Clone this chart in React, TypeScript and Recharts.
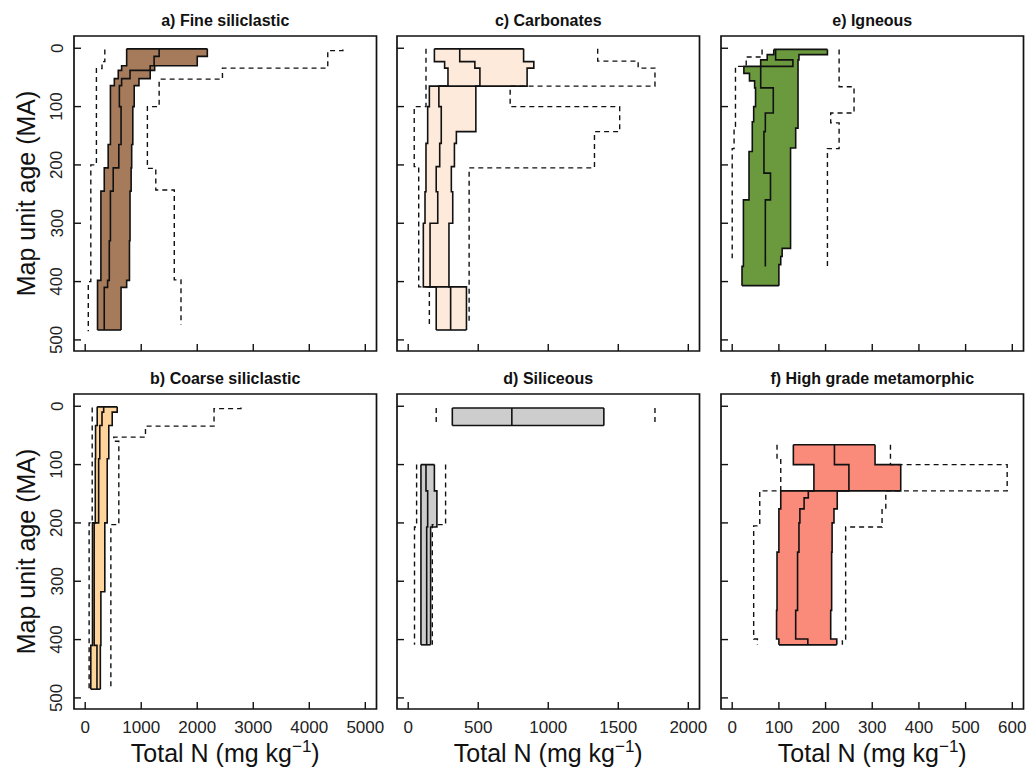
import React from "react";
import { Area, ComposedChart, Line, ReferenceArea, XAxis, YAxis } from "recharts";

// age breaks (MA) and per-bin values (mg/kg)
const aAges = [1, 14, 30, 38, 52, 64, 100, 165, 205, 245, 330, 398, 410, 483];
const aQ1 = [740, 740, 650, 590, 520, 450, 450, 410, 340, 280, 280, 220, 220];
const aMed = [1320, 1230, 1160, 800, 650, 610, 640, 600, 500, 450, 430, 400, 340];
const aQ3 = [2180, 2000, 1240, 1160, 960, 875, 850, 830, 820, 800, 790, 740, 640];
const aMinAges = [2, 23, 35, 200, 400, 485];
const aMin = [350, 300, 200, 100, 55];
const aMaxAges = [2, 4, 34, 53, 100, 206, 243, 397, 474];
const aMax = [4600, 4330, 2450, 1320, 1110, 1260, 1590, 1710];

const bAges = [1, 10, 33, 90, 200, 318, 410, 485];
const bQ1 = [214, 214, 185, 180, 130, 130, 100];
const bMed = [330, 300, 260, 240, 160, 160, 210];
const bQ3 = [571, 482, 421, 393, 350, 280, 270];
const bMinAges = [2, 200, 485];
const bMin = [125, 70];
const bMaxAges = [2, 4, 34, 53, 60, 203, 480];
const bMax = [2780, 2300, 1076, 510, 600, 458];

const cAges = [1, 23, 34, 65, 100, 143, 163, 203, 246, 300, 409, 483];
const cQ1 = [187, 260, 284, 151, 139, 139, 127, 127, 120, 108, 200];
const cMed = [368, 476, 512, 219, 236, 236, 225, 200, 211, 156, 303];
const cQ3 = [824, 897, 849, 483, 483, 344, 330, 308, 318, 291, 416];
const cMinAges = [1, 100, 203, 409, 474];
const cMin = [127, 43, 75, 151];
const cMaxAges = [1, 22, 34, 65, 100, 143, 205, 474];
const cMax = [1353, 1642, 1762, 728, 1510, 1330, 435];

const dAges = [3, 33, 100, 145, 207, 409];
const dQ1 = [315, null, 91, 91, 91];
const dMed = [740, null, 127, 139, 132];
const dQ3 = [1397, null, 187, 205, 160];
const dMinAges = [3, 33, 100, 207, 409];
const dMin = [200, null, 60, 45];
const dMaxAges = [3, 33, 100, 203, 409];
const dMax = [1762, null, 267, 172];

const eAges = [2, 11, 20, 31, 43, 56, 68, 100, 111, 126, 137, 143, 171, 177, 214, 260, 343, 357, 371, 374, 407];
const eQ1 = [89, 75, 61, 25, 37, 48, 50, 46, 46, 43, 43, 43, 43, 36, 36, 24, 24, 24, 24, 21];
const eMed = [93, 93, 130, 61, 61, 61, 88, 88, 71, 71, 71, 68, 68, 68, 82, 71, 71, 71, 71, null];
const eQ3 = [204, 143, 141, 141, 141, 141, 141, 141, 141, 141, 136, 136, 125, 125, 125, 125, 107, 104, 100, 100];
const eMinAges = [2, 15, 31, 134, 172, 360];
const eMin = [64, 30, 7, 4, 0];
const eMaxAges = [2, 66, 111, 128, 172, 374];
const eMax = [229, 261, 211, 229, 204];

const fAges = [66, 100, 145, 157, 176, 200, 250, 350, 399, 409];
const fQ1 = [131, 175, 104, 104, 100, 100, 96, 95, 100];
const fMed = [219, 250, 163, 154, 145, 143, 140, 136, 162];
const fQ3 = [306, 361, 225, 225, 218, 214, 213, 211, 224];
const fMinAges = [66, 90, 145, 205, 399, 409];
const fMin = [96, 104, 59, 46, 54];
const fMaxAges = [66, 100, 145, 176, 207, 399, 409];
const fMax = [339, 589, 329, 321, 243, 236];

const ageDomain = [-21, 519];
const ageTicks = [0, 100, 200, 300, 400, 500];
const ticks5000 = [0, 1000, 2000, 3000, 4000, 5000];
const ticks2000 = [0, 500, 1000, 1500, 2000];
const ticks600 = [0, 100, 200, 300, 400, 500, 600];

type Val = number | null;
type Row = { age: number; v: number };
type BandRow = { age: number; lo: number; hi: number };

// split a binned step series into contiguous runs of rows (nulls break it)
function stepRuns(ages: number[], vals: Val[]): Row[][] {
  const runs: Row[][] = [];
  let cur: Row[] = [];
  vals.forEach((v, i) => {
    if (v == null) {
      if (cur.length) runs.push(cur);
      cur = [];
      return;
    }
    cur.push({ age: ages[i], v }, { age: ages[i + 1], v });
  });
  if (cur.length) runs.push(cur);
  return runs;
}

function bandRuns(ages: number[], lo: Val[], hi: Val[]): BandRow[][] {
  const runs: BandRow[][] = [];
  let cur: BandRow[] = [];
  lo.forEach((l, i) => {
    const h = hi[i];
    if (l == null || h == null) {
      if (cur.length) runs.push(cur);
      cur = [];
      return;
    }
    cur.push({ age: ages[i], lo: l, hi: h }, { age: ages[i + 1], lo: l, hi: h });
  });
  if (cur.length) runs.push(cur);
  return runs;
}

// top and bottom edges of each filled run
function caps(runs: BandRow[][]): Row[][] {
  const out: Row[][] = [];
  runs.forEach((r) => {
    const a = r[0];
    const b = r[r.length - 1];
    out.push([{ age: a.age, v: a.lo }, { age: a.age, v: a.hi }]);
    out.push([{ age: b.age, v: b.lo }, { age: b.age, v: b.hi }]);
  });
  return out;
}

const panels = [
  { title: "a) Fine siliclastic", fill: "#A67B5B", col: 0, row: 0, domain: [-200, 5200], ticks: ticks5000,
    ages: aAges, q1: aQ1, med: aMed, q3: aQ3, minAges: aMinAges, min: aMin, maxAges: aMaxAges, max: aMax },
  { title: "b) Coarse siliclastic", fill: "#FFD59B", col: 0, row: 1, domain: [-200, 5200], ticks: ticks5000,
    ages: bAges, q1: bQ1, med: bMed, q3: bQ3, minAges: bMinAges, min: bMin, maxAges: bMaxAges, max: bMax },
  { title: "c) Carbonates", fill: "#FDEADB", col: 1, row: 0, domain: [-80, 2080], ticks: ticks2000,
    ages: cAges, q1: cQ1, med: cMed, q3: cQ3, minAges: cMinAges, min: cMin, maxAges: cMaxAges, max: cMax },
  { title: "d) Siliceous", fill: "#CDCDCD", col: 1, row: 1, domain: [-80, 2080], ticks: ticks2000,
    ages: dAges, q1: dQ1, med: dMed, q3: dQ3, minAges: dMinAges, min: dMin, maxAges: dMaxAges, max: dMax },
  { title: "e) Igneous", fill: "#6B9A3E", col: 2, row: 0, domain: [-24, 624], ticks: ticks600,
    ages: eAges, q1: eQ1, med: eMed, q3: eQ3, minAges: eMinAges, min: eMin, maxAges: eMaxAges, max: eMax },
  { title: "f) High grade metamorphic", fill: "#FA8B7B", col: 2, row: 1, domain: [-24, 624], ticks: ticks600,
    ages: fAges, q1: fQ1, med: fMed, q3: fQ3, minAges: fMinAges, min: fMin, maxAges: fMaxAges, max: fMax },
];

const PLOT_LEFT = [73.5, 397, 721];
const PLOT_TOP = [35.5, 393.5];
const PW = 302.5;
const PH = 315;
const AXIS_W = 70;
const TOP = 30;
const RIGHT = 20;
const INK = "#111";
const TICK_FONT = 17;
const TITLE_FONT = 25;

function BottomTick(props: any) {
  const { x, y, payload, show } = props;
  return (
    <g>
      <line x1={x} y1={y} x2={x} y2={y - 7} stroke={INK} strokeWidth={1.4} />
      {show && (
        <text x={x} y={y + 18.5} textAnchor="middle" dominantBaseline="central" fontSize={TICK_FONT} fill="#222">
          {payload.value}
        </text>
      )}
    </g>
  );
}

function LeftTick(props: any) {
  const { x, y, payload, show } = props;
  const tx = x - 17;
  return (
    <g>
      <line x1={x} y1={y} x2={x + 7} y2={y} stroke={INK} strokeWidth={1.4} />
      {show && (
        <text x={tx} y={y} transform={`rotate(-90, ${tx}, ${y})`} textAnchor="middle" dominantBaseline="central" fontSize={TICK_FONT} fill="#222">
          {payload.value}
        </text>
      )}
    </g>
  );
}

function Panel({ p }: { p: (typeof panels)[number] }) {
  const bottom = p.row === 1;
  const first = p.col === 0;
  const xH = bottom ? 60 : 10;
  const band = bandRuns(p.ages, p.q1, p.q3);
  const solid = [
    ...stepRuns(p.ages, p.q1),
    ...stepRuns(p.ages, p.q3),
    ...stepRuns(p.ages, p.med),
    ...caps(band),
  ];
  const dashed = [...stepRuns(p.minAges, p.min), ...stepRuns(p.maxAges, p.max)];

  return (
    <div style={{ position: "absolute", left: PLOT_LEFT[p.col] - AXIS_W, top: PLOT_TOP[p.row] - TOP }}>
      <ComposedChart
        layout="vertical"
        width={AXIS_W + PW + RIGHT}
        height={TOP + PH + xH}
        margin={{ top: TOP, right: RIGHT, bottom: 0, left: 0 }}
      >
        <XAxis
          type="number"
          domain={p.domain}
          ticks={p.ticks}
          interval={0}
          allowDataOverflow
          axisLine={false}
          tickLine={false}
          tickSize={0}
          tickMargin={0}
          height={xH}
          tick={(t: any) => <BottomTick {...t} show={bottom} />}
          label={
            bottom
              ? (l: any) => {
                  const vb = l.viewBox;
                  return (
                    <text x={vb.x + vb.width / 2} y={vb.y + 53} textAnchor="middle" fontSize={TITLE_FONT} fill={INK}>
                      Total N (mg kg<tspan dy={-10} fontSize={17}>−1</tspan>
                      <tspan dy={10}>)</tspan>
                    </text>
                  );
                }
              : undefined
          }
        />
        <YAxis
          type="number"
          dataKey="age"
          domain={ageDomain}
          ticks={ageTicks}
          interval={0}
          allowDataOverflow
          axisLine={false}
          tickLine={false}
          tickSize={0}
          tickMargin={0}
          width={AXIS_W}
          tick={(t: any) => <LeftTick {...t} show={first} />}
          label={
            first
              ? (l: any) => {
                  const vb = l.viewBox;
                  const cx = vb.x + vb.width - 48.5;
                  const cy = vb.y + vb.height / 2;
                  return (
                    <text x={cx} y={cy} transform={`rotate(-90, ${cx}, ${cy})`} textAnchor="middle" dominantBaseline="central" fontSize={TITLE_FONT} fill={INK}>
                      Map unit age (MA)
                    </text>
                  );
                }
              : undefined
          }
        />
        {band.map((run, i) => (
          <Area
            key={`band${i}`}
            data={run}
            dataKey={(r: BandRow) => [r.lo, r.hi]}
            type="linear"
            fill={p.fill}
            fillOpacity={1}
            stroke="none"
            isAnimationActive={false}
          />
        ))}
        {dashed.map((run, i) => (
          <Line key={`dash${i}`} data={run} dataKey="v" type="linear" stroke={INK} strokeWidth={1.4} strokeDasharray="5 4" dot={false} activeDot={false} isAnimationActive={false} />
        ))}
        {solid.map((run, i) => (
          <Line key={`solid${i}`} data={run} dataKey="v" type="linear" stroke={INK} strokeWidth={1.6} dot={false} activeDot={false} isAnimationActive={false} />
        ))}
        <ReferenceArea
          x1={p.domain[0]}
          x2={p.domain[1]}
          y1={ageDomain[0]}
          y2={ageDomain[1]}
          fill="none"
          stroke={INK}
          strokeWidth={1.7}
          ifOverflow="visible"
          label={{ value: p.title, position: "top", offset: 10, fontSize: 16, fontWeight: "bold", fill: INK }}
        />
      </ComposedChart>
    </div>
  );
}

export default function App() {
  return (
    <div
      style={{
        position: "absolute",
        left: 0,
        top: 0,
        width: 1030,
        height: 769,
        background: "#fff",
        fontFamily: "'Liberation Sans', Arial, Helvetica, sans-serif",
      }}
    >
      {panels.map((p) => (
        <Panel key={p.title} p={p} />
      ))}
    </div>
  );
}
